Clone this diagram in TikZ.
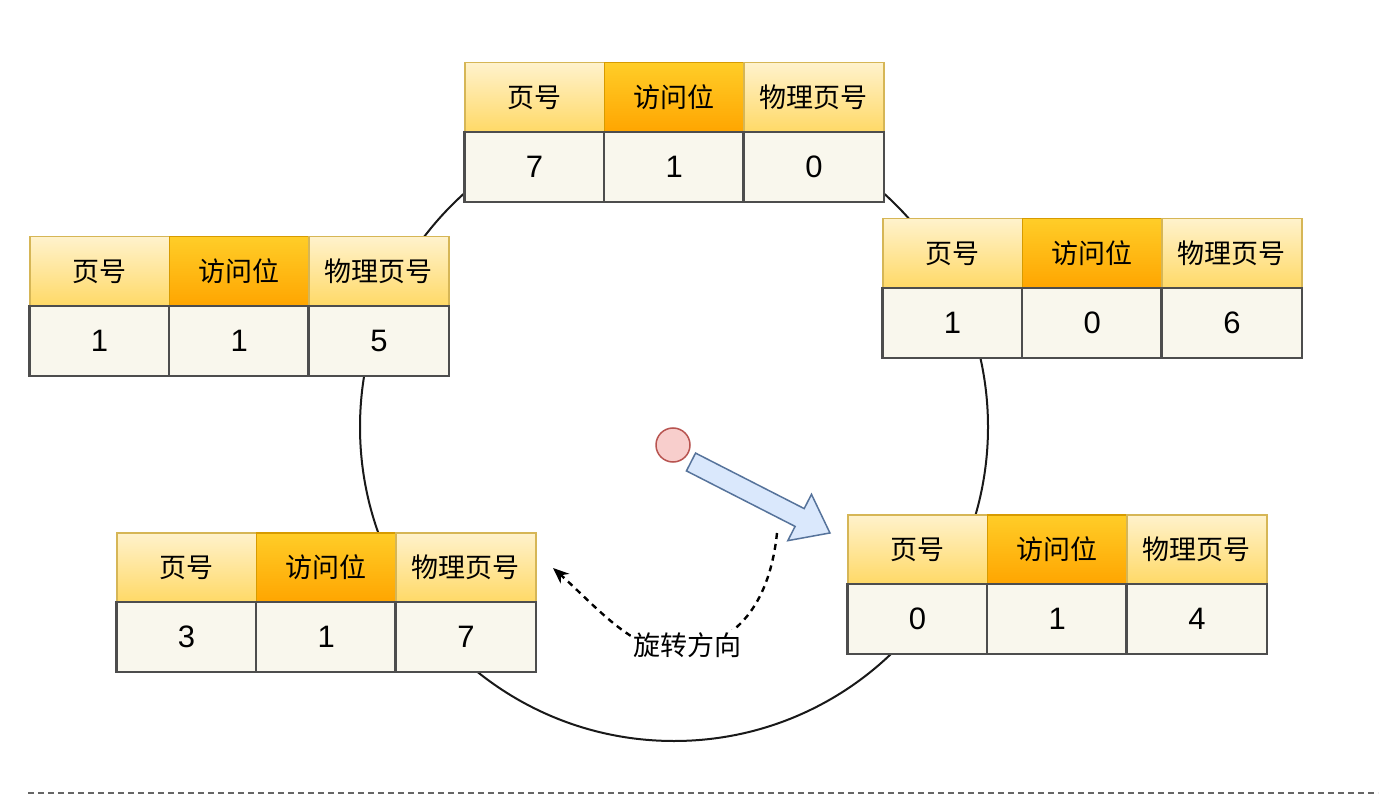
\documentclass[tikz,border=0pt]{standalone}
\usepackage{fontspec}
\setmainfont{Noto Sans CJK SC}
\newfontfamily\numfont{Liberation Sans}
\usetikzlibrary{arrows.meta}
\definecolor{hytop}{HTML}{FFF2CC}
\definecolor{hybot}{HTML}{FFD966}
\definecolor{hyline}{HTML}{D6B656}
\definecolor{hotop}{HTML}{FFCD28}
\definecolor{hobot}{HTML}{FFA500}
\definecolor{holine}{HTML}{D79B00}
\definecolor{valfill}{HTML}{F9F7ED}
\definecolor{valline}{HTML}{4D4D4D}
\definecolor{redfill}{HTML}{F8CECC}
\definecolor{redline}{HTML}{B85450}
\definecolor{bluefill}{HTML}{DAE8FC}
\definecolor{blueline}{HTML}{56739B}
\tikzset{
  cellbase/.style={minimum width=139.67pt, minimum height=69.5pt, inner sep=0pt, anchor=north west, line width=1.5pt},
  hcell/.style={cellbase, top color=hytop, bottom color=hybot, draw=hyline, font=\fontsize{27}{30}\selectfont},
  hmid/.style={cellbase, top color=hotop, bottom color=hobot, draw=holine, font=\fontsize{27}{30}\selectfont},
  vcell/.style={cellbase, fill=valfill, draw=valline, font=\numfont\fontsize{31}{34}\selectfont},
  gridline/.style={draw=valline, line width=1.8pt},
}
\newcommand\pgtable[6]{%
  \node[hcell] (#1h1) at (#2,#3) {页号};
  \node[hmid]  (#1h2) at (#2+139.67,#3) {访问位};
  \node[hcell] (#1h3) at (#2+279.33,#3) {物理页号};
  \node[vcell] (#1v1) at (#2,#3+69.5) {#4};
  \node[vcell] (#1v2) at (#2+139.67,#3+69.5) {#5};
  \node[vcell] (#1v3) at (#2+279.33,#3+69.5) {#6};
  \draw[gridline] (#1v1.north west) rectangle (#1v3.south east);
  \draw[gridline] (#1v2.north west) -- (#1v2.south west);
  \draw[gridline] (#1v3.north west) -- (#1v3.south west);
}
\begin{document}
\begin{tikzpicture}[x=1pt,y=-1pt]
\useasboundingbox[fill=white] (0,0) rectangle (1389,799);
\node[draw=black!90, line width=2pt, circle, minimum size=628pt, inner sep=0pt] (ring) at (674,427) {};
\pgtable{top}{464}{62}{7}{1}{0}
\pgtable{lft}{29}{236}{1}{1}{5}
\pgtable{rgt}{882}{218}{1}{0}{6}
\pgtable{bl}{116}{532}{3}{1}{7}
\pgtable{br}{847}{514}{0}{1}{4}
% pointer
\node[circle, draw=redline, fill=redfill, line width=1.5pt, minimum size=34pt, inner sep=0pt] (hand) at (673,445) {};
\begin{scope}[shift={(691,462)}, rotate=-27.06]
\draw[draw=blueline, fill=bluefill, line width=1.5pt, line join=miter]
  (0,-10) -- (122,-10) -- (122,-26) -- (156,0) -- (122,26) -- (122,10) -- (0,10) -- cycle;
\end{scope}
% rotation direction
\coordinate (rs) at (777,533);
\coordinate (rm) at (690,650);
\coordinate (re) at (553,568);
\draw[line width=2.4pt, dash pattern=on 6pt off 5pt, -{Stealth[length=16pt,width=13pt]}]
  (rs) .. controls (770,600) and (740,640) .. (rm) .. controls (640,660) and (600,610) .. (re);
\node[fill=white, inner sep=2pt, font=\fontsize{27}{30}\selectfont] (lbl) at (687,645) {旋转方向};
% bottom separator
\coordinate (sepl) at (28,793);
\coordinate (sepr) at (1378,793);
\draw[black!60, line width=2pt, dash pattern=on 6pt off 4pt] (sepl) -- (sepr);
\end{tikzpicture}
\end{document}
